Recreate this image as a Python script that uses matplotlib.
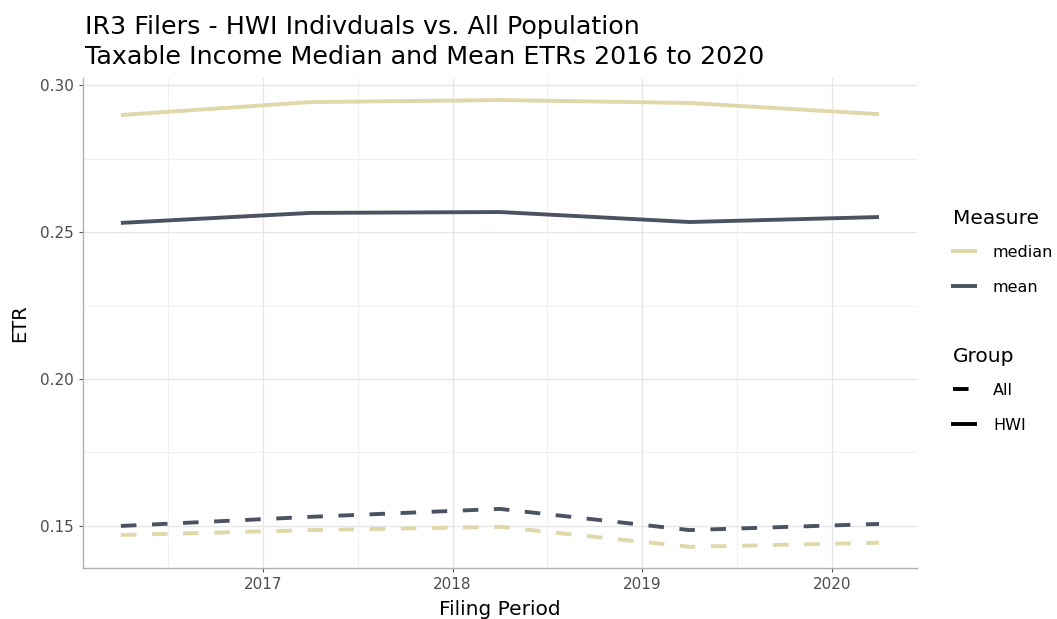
import matplotlib.pyplot as plt
from matplotlib.lines import Line2D
import numpy as np

# filing period (end of March each year)
years = [2016.25, 2017.25, 2018.25, 2019.25, 2020.25]
median_hwi = [0.2898, 0.2942, 0.2949, 0.2939, 0.2901]
mean_hwi = [0.2531, 0.2565, 0.2568, 0.2534, 0.2551]
mean_all = [0.1500, 0.1531, 0.1558, 0.1486, 0.1507]
median_all = [0.1469, 0.1486, 0.1497, 0.1429, 0.1443]

tan = "#E0D8A8"
dark = "#4B5363"

fig = plt.figure(figsize=(10.57, 6.19), dpi=100)
ax = fig.add_axes([0.0785, 0.0824, 0.789, 0.7916])

lw = 2.8
ax.plot(years, median_hwi, color=tan, lw=lw, solid_capstyle="butt")
ax.plot(years, mean_hwi, color=dark, lw=lw, solid_capstyle="butt")
ax.plot(years, mean_all, color=dark, lw=lw, linestyle=(0, (4, 4)))
ax.plot(years, median_all, color=tan, lw=lw, linestyle=(0, (4, 4)))

ax.set_xlim(2016.05, 2020.45)
ax.set_ylim(0.1357, 0.3024)
ax.set_xticks([2017, 2018, 2019, 2020])
ax.set_xticks([2016.5, 2017.5, 2018.5, 2019.5], minor=True)
ax.set_yticks([0.15, 0.20, 0.25, 0.30])
ax.set_yticklabels(["0.15", "0.20", "0.25", "0.30"])
ax.set_yticks([0.175, 0.225, 0.275], minor=True)
ax.grid(True, which="major", color="#E6E6E6", lw=1.0)
ax.grid(True, which="minor", color="#F0F0F0", lw=0.8)
ax.set_axisbelow(True)

for s in ["top", "right"]:
    ax.spines[s].set_visible(False)
for s in ["left", "bottom"]:
    ax.spines[s].set_color("#B0B0B0")
    ax.spines[s].set_linewidth(1.0)
ax.tick_params(which="major", length=3, color="#555555", labelsize=11, labelcolor="#4D4D4D")
ax.tick_params(which="minor", length=0)

ax.set_xlabel("Filing Period", fontsize=14.5, labelpad=6)
ax.set_ylabel("ETR", fontsize=14, labelpad=8)

fig.text(0.08, 0.945, "IR3 Filers - HWI Indivduals vs. All Population", fontsize=18.3, va="baseline")
fig.text(0.08, 0.897, "Taxable Income Median and Mean ETRs 2016 to 2020", fontsize=18.3, va="baseline")

leg_kw = dict(loc="upper left", frameon=False, fontsize=11.5, title_fontsize=14.5,
              handlelength=1.4, handletextpad=1.1, labelspacing=1.25,
              alignment="left")
h1 = [Line2D([], [], color=tan, lw=2.8), Line2D([], [], color=dark, lw=2.8)]
leg1 = fig.legend(h1, ["median", "mean"], title="Measure",
                  bbox_to_anchor=(0.888, 0.685), **leg_kw)
leg1._legend_box.sep = 12
h2 = [Line2D([], [], color="black", lw=2.8, linestyle=(0, (4, 4))),
      Line2D([], [], color="black", lw=2.8)]
leg2 = fig.legend(h2, ["All", "HWI"], title="Group",
                  bbox_to_anchor=(0.888, 0.462), **leg_kw)
leg2._legend_box.sep = 12

fig.savefig("out.png", dpi=100)
